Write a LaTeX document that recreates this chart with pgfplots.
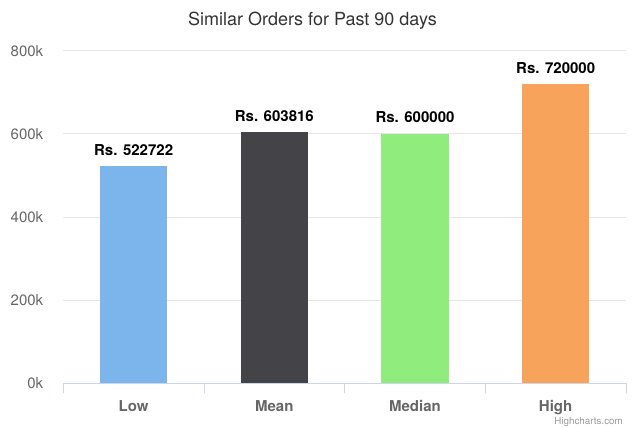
\documentclass[border=0pt]{standalone}
\usepackage{fontspec}
\setmainfont{TeX Gyre Heros}
\usepackage{pgfplots}
\pgfplotsset{compat=1.18}
\definecolor{c1}{HTML}{7CB5EC}
\definecolor{c2}{HTML}{434348}
\definecolor{c3}{HTML}{90ED7D}
\definecolor{c4}{HTML}{F7A35C}
\definecolor{gridcol}{HTML}{E6E6E6}
\definecolor{axiscol}{HTML}{CCD6EB}
\definecolor{lab}{HTML}{666666}
\definecolor{ttl}{HTML}{333333}
\definecolor{cred}{HTML}{999999}
\begin{document}
\begin{tikzpicture}[x=1pt,y=1pt]
\path[use as bounding box] (0,0) rectangle (632,428);
\node[text=ttl, font=\fontsize{18}{21}\selectfont] at (312.5,407.3) {Similar Orders for Past 90 days};
\node[text=cred, font=\fontsize{9.8}{11}\selectfont, anchor=east, inner sep=0pt] at (623,6.3) {Highcharts.com};
\begin{axis}[
  at={(63.3pt,44.7pt)}, anchor=south west,
  scale only axis, width=562.7pt, height=332.6pt,
  xmin=-0.5, xmax=3.5, ymin=0, ymax=800000,
  axis x line*=bottom, axis y line*=left,
  x axis line style={draw=axiscol, line width=0.8pt},
  y axis line style={draw=none},
  xtick={0,1,2,3}, xticklabels={Low,Mean,Median,High},
  minor xtick={-0.5,0.5,1.5,2.5,3.5},
  major x tick style={draw=none},
  minor x tick style={draw=axiscol, line width=0.8pt},
  minor tick length=10pt, tick align=outside,
  xticklabel style={text=lab, font=\bfseries\fontsize{15}{18}\selectfont, anchor=north, inner sep=0pt, yshift=-12.4pt},
  ytick={0,200000,400000,600000,800000},
  yticklabels={0k,200k,400k,600k,800k},
  ytick style={draw=none},
  yticklabel style={text=lab, font=\fontsize{15}{18}\selectfont, anchor=east, inner sep=0pt, xshift=-15.6pt},
  ymajorgrids, major grid style={draw=gridcol, line width=0.8pt},
  scaled y ticks=false,
  point meta=explicit symbolic,
  nodes near coords,
  every node near coord/.append style={font=\bfseries\fontsize{15}{18}\selectfont, text=black, anchor=south, inner sep=0pt, yshift=10.6pt},
  clip=false,
]
\addplot[ybar, bar width=67.6pt, bar shift=0pt, fill=c1, draw=none] coordinates {(0,522722) [Rs. 522722]};
\addplot[ybar, bar width=67.6pt, bar shift=0pt, fill=c2, draw=none] coordinates {(1,603816) [Rs. 603816]};
\addplot[ybar, bar width=67.6pt, bar shift=0pt, fill=c3, draw=none] coordinates {(2,600000) [Rs. 600000]};
\addplot[ybar, bar width=67.6pt, bar shift=0pt, fill=c4, draw=none] coordinates {(3,720000) [Rs. 720000]};
\end{axis}
\end{tikzpicture}
\end{document}
